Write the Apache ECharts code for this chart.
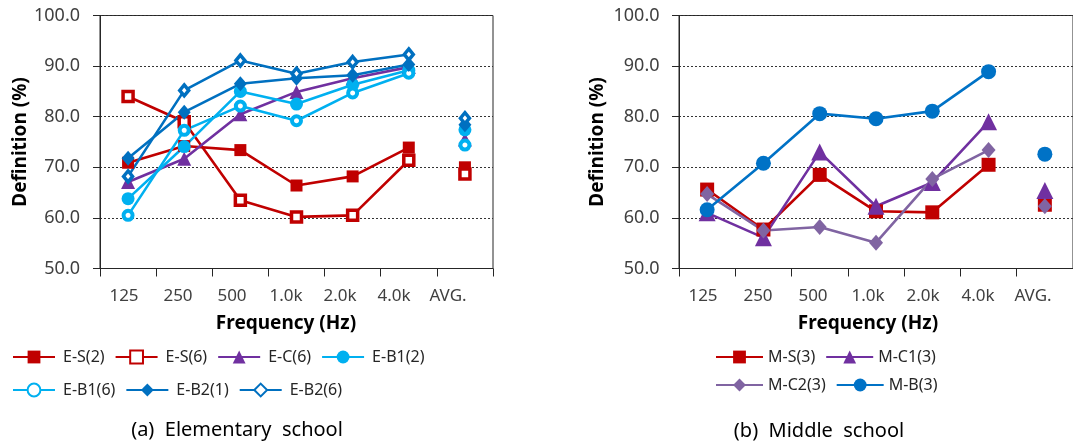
<!DOCTYPE html>
<html>
<head>
<meta charset="utf-8">
<script src="https://cdn.jsdelivr.net/npm/echarts@6/dist/echarts.min.js"></script>
<style>
html,body{margin:0;padding:0;background:#fff;}
#chart{width:1073px;height:445px;}
</style>
</head>
<body>
<div id="chart"></div>
<script>
// ---- data ----
const categories = ['125', '250', '500', '1.0k', '2.0k', '4.0k', 'AVG.'];
const yMin = 50, yMax = 100, yStep = 10;

// Elementary school (last value = AVG.)
const E_S2  = [70.9, 74.2, 73.4, 66.4, 68.2, 73.9, 70.0];
const E_S6  = [84.0, 79.0, 63.5, 60.2, 60.5, 71.4, 68.7];
const E_C6  = [67.1, 71.7, 80.5, 84.9, 87.6, 89.8, 75.5];
const E_B1_2 = [63.8, 74.1, 85.0, 82.5, 86.3, 89.2, 77.4];
const E_B1_6 = [60.5, 77.3, 82.1, 79.2, 84.7, 88.6, 74.4];
const E_B2_1 = [71.8, 80.9, 86.5, 87.6, 88.2, 90.3, 78.4];
const E_B2_6 = [68.2, 85.2, 91.1, 88.5, 90.8, 92.3, 79.7];

// Middle school (last value = AVG.)
const M_S3  = [65.6, 57.7, 68.5, 61.3, 61.1, 70.5, 62.6];
const M_C1_3 = [61.0, 56.1, 73.0, 62.3, 67.0, 79.0, 65.4];
const M_C2_3 = [64.7, 57.5, 58.2, 55.1, 67.7, 73.4, 62.3];
const M_B3  = [61.6, 70.8, 80.6, 79.6, 81.1, 88.9, 72.6];

const namesE = ['E-S(2)', 'E-S(6)', 'E-C(6)', 'E-B1(2)', 'E-B1(6)', 'E-B2(1)', 'E-B2(6)'];
const namesM = ['M-S(3)', 'M-C1(3)', 'M-C2(3)', 'M-B(3)'];
const captionA = '(a)  Elementary  school';
const captionB = '(b)  Middle  school';

// ---- styles ----
const RED = '#C00000', PURPLE = '#7030A0', CYAN = '#00B0F0', BLUE = '#0070C0', LPURPLE = '#8064A2', MBLUE = '#0072C6';
const FONT = 'Noto Sans';
const TXT = '#404040';

function makeSeries(name, values, color, symbol, size, open, axisIdx, borderW) {
  const freq = categories.slice(0, 6).map((c, i) => [c, values[i]]);
  const avg = [[categories[6], values[6]]];
  const itemStyle = open
    ? { color: '#ffffff', borderColor: color, borderWidth: borderW || 3.5, opacity: 1 }
    : { color: color, opacity: 1 };
  return [
    {
      name: name, type: 'line', xAxisIndex: axisIdx, yAxisIndex: axisIdx,
      data: freq, symbol: symbol, symbolSize: size, showSymbol: true,
      lineStyle: { color: color, width: 2.6 }, itemStyle: itemStyle,
      emphasis: { disabled: true }, animation: false
    },
    {
      name: name, type: 'scatter', xAxisIndex: axisIdx, yAxisIndex: axisIdx,
      data: avg, symbol: symbol, symbolSize: size, itemStyle: itemStyle,
      emphasis: { disabled: true }, animation: false
    }
  ];
}

const series = [].concat(
  makeSeries(namesE[0], E_S2, RED, 'rect', 12, false, 0),
  makeSeries(namesE[1], E_S6, RED, 'rect', 10, true, 0),
  makeSeries(namesE[2], E_C6, PURPLE, 'triangle', 14, false, 0),
  makeSeries(namesE[3], E_B1_2, CYAN, 'circle', 13, false, 0),
  makeSeries(namesE[4], E_B1_6, CYAN, 'circle', 9, true, 0, 4),
  makeSeries(namesE[5], E_B2_1, BLUE, 'diamond', [13, 15], false, 0),
  makeSeries(namesE[6], E_B2_6, BLUE, 'diamond', [9, 11], true, 0, 3.5),
  makeSeries(namesM[0], M_S3, RED, 'rect', 14, false, 1),
  makeSeries(namesM[1], M_C1_3, PURPLE, 'triangle', 17, false, 1),
  makeSeries(namesM[2], M_C2_3, LPURPLE, 'diamond', [14, 16], false, 1),
  makeSeries(namesM[3], M_B3, MBLUE, 'circle', 15, false, 1)
);

const plotTop = 15.5, plotH = 253;

function valueAxis(gridIndex, name, nameGap, labelMargin) {
  return {
    type: 'value', gridIndex: gridIndex, min: yMin, max: yMax, interval: yStep,
    name: name, nameLocation: 'middle', nameGap: nameGap, nameRotate: 90,
    nameTextStyle: { fontFamily: FONT, fontSize: 19, fontWeight: 'bold', color: '#000' },
    axisLine: { show: true, lineStyle: { color: '#262626', width: 1 } },
    axisTick: { show: true, length: 7, lineStyle: { color: '#262626' } },
    axisLabel: { fontFamily: FONT, fontSize: 18, color: TXT, margin: labelMargin,
                 formatter: v => v.toFixed(1) },
    splitLine: { show: true, lineStyle: { color: '#333', type: [2, 2], width: 1 } }
  };
}
function catAxis(gridIndex) {
  return {
    type: 'category', gridIndex: gridIndex, data: categories, boundaryGap: true,
    axisLine: { show: true, lineStyle: { color: '#262626', width: 1 } },
    axisTick: { show: true, length: 8, alignWithLabel: false, lineStyle: { color: '#262626' } },
    axisLabel: { show: false }, splitLine: { show: false }
  };
}
function labelAxis(gridIndex) {
  return {
    type: 'category', gridIndex: gridIndex, data: categories, boundaryGap: true,
    name: 'Frequency (Hz)', nameLocation: 'middle', nameGap: 46,
    nameTextStyle: { fontFamily: FONT, fontSize: 19, fontWeight: 'bold', color: '#000' },
    axisLine: { show: false }, axisTick: { show: false },
    axisLabel: { show: true, fontFamily: FONT, fontSize: 17, color: TXT, margin: 19, interval: 0 },
    splitLine: { show: false }
  };
}
function hiddenY(gridIndex) {
  return { type: 'value', gridIndex: gridIndex, show: false, min: 0, max: 1, splitLine: { show: false } };
}

function legendRow(names, left, top, itemW, textW, textPad) {
  return {
    data: names, left: left, top: top, orient: 'horizontal', padding: 0,
    itemWidth: itemW, itemHeight: 16, itemGap: 10, selectedMode: false,
    textStyle: { fontFamily: FONT, fontSize: 16, color: '#262626', width: textW, overflow: 'none',
                 padding: [0, 0, 0, textPad] }
  };
}

const option = {
  backgroundColor: '#ffffff',
  animation: false,
  grid: [
    { left: 100, top: plotTop, width: 393, height: plotH, show: true, borderColor: '#262626', borderWidth: 1, containLabel: false },
    { left: 679, top: plotTop, width: 396, height: plotH, show: true, borderColor: '#262626', borderWidth: 1, containLabel: false },
    { left: 97, top: plotTop, width: 378, height: plotH },
    { left: 675.5, top: plotTop, width: 385, height: plotH }
  ],
  xAxis: [catAxis(0), catAxis(1), labelAxis(2), labelAxis(3)],
  yAxis: [valueAxis(0, 'Definition (%)', 70, 20), valueAxis(1, 'Definition (%)', 72, 19.5), hiddenY(2), hiddenY(3)],
  legend: [
    legendRow(namesE.slice(0, 4), 12, 349, 42, 63, 3),
    legendRow(namesE.slice(4), 12, 382, 42, 63, 3),
    legendRow([namesM[0], namesM[1]], 715, 349, 47, 127, 0),
    legendRow([namesM[2], namesM[3]], 715, 377, 47, 127, 0)
  ],
  graphic: [
    { type: 'text', x: 237, y: 430, style: { text: captionA, font: '20px "Noto Sans"', fill: '#000',
      align: 'center', verticalAlign: 'middle', textAlign: 'center', textVerticalAlign: 'middle' } },
    { type: 'text', x: 819, y: 431, style: { text: captionB, font: '20px "Noto Sans"', fill: '#000',
      align: 'center', verticalAlign: 'middle', textAlign: 'center', textVerticalAlign: 'middle' } }
  ],
  series: series
};

const chart = echarts.init(document.getElementById('chart'), null, { renderer: 'canvas' });
chart.setOption(option);
</script>
</body>
</html>
